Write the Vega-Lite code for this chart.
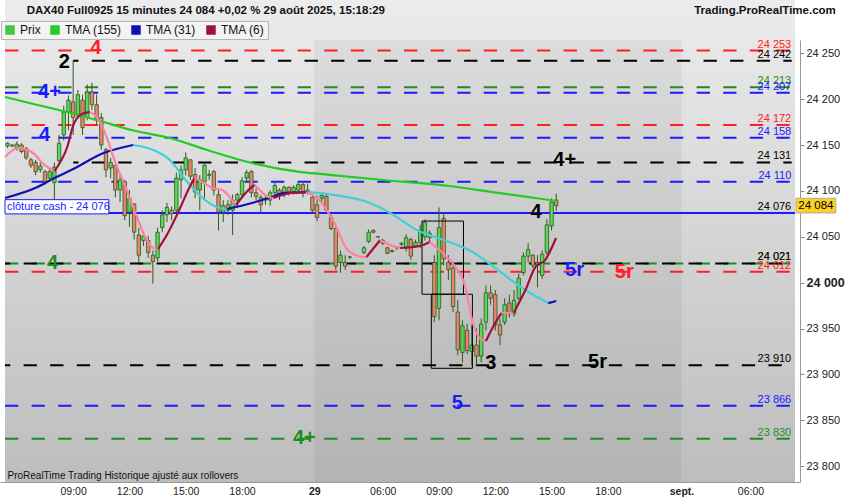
{
  "$schema": "https://vega.github.io/schema/vega-lite/v6.json",
  "width": 800,
  "height": 442,
  "autosize": {"type": "none"},
  "padding": {"top": 40, "left": 0, "right": 50, "bottom": 18},
  "background": "#ffffff",
  "config": {"view": {"stroke": null}, "font": "Liberation Sans", "axis": {"title": null, "grid": false}},
  "datasets": {
    "candles": [
      {"i":-14,"o":24149,"h":24153,"l":24147,"c":24152},
      {"i":-13,"o":24150,"h":24151,"l":24148,"c":24149},
      {"i":-12,"o":24147,"h":24154,"l":24144,"c":24151},
      {"i":-11,"o":24150,"h":24152,"l":24141,"c":24143},
      {"i":-10,"o":24146,"h":24148,"l":24134,"c":24136},
      {"i":-9,"o":24134,"h":24136,"l":24125,"c":24128},
      {"i":-8,"o":24131,"h":24134,"l":24117,"c":24121},
      {"i":-7,"o":24123,"h":24131,"l":24120,"c":24127},
      {"i":-6,"o":24121,"h":24123,"l":24107,"c":24110},
      {"i":-5,"o":24114,"h":24125,"l":24110,"c":24121},
      {"i":-4,"o":24109,"h":24131,"l":24090,"c":24126},
      {"i":-3,"o":24133,"h":24161,"l":24128,"c":24152},
      {"i":-2,"o":24161,"h":24193,"l":24155,"c":24186},
      {"i":-1,"o":24186,"h":24204,"l":24166,"c":24199},
      {"i":0,"o":24197,"h":24242,"l":24161,"c":24180},
      {"i":1,"o":24182,"h":24210,"l":24180,"c":24205},
      {"i":2,"o":24199,"h":24205,"l":24161,"c":24169},
      {"i":3,"o":24180,"h":24216,"l":24177,"c":24208},
      {"i":4,"o":24208,"h":24218,"l":24188,"c":24194},
      {"i":5,"o":24194,"h":24205,"l":24172,"c":24177},
      {"i":6,"o":24180,"h":24185,"l":24145,"c":24150},
      {"i":7,"o":24145,"h":24147,"l":24115,"c":24123},
      {"i":8,"o":24125,"h":24136,"l":24114,"c":24131},
      {"i":9,"o":24128,"h":24128,"l":24093,"c":24101},
      {"i":10,"o":24101,"h":24117,"l":24088,"c":24112},
      {"i":11,"o":24110,"h":24112,"l":24068,"c":24073},
      {"i":12,"o":24077,"h":24101,"l":24061,"c":24092},
      {"i":13,"o":24086,"h":24086,"l":24047,"c":24055},
      {"i":14,"o":24052,"h":24060,"l":24022,"c":24030},
      {"i":15,"o":24046,"h":24054,"l":24040,"c":24051},
      {"i":16,"o":24046,"h":24051,"l":24027,"c":24033},
      {"i":17,"o":24030,"h":24035,"l":23999,"c":24023},
      {"i":18,"o":24027,"h":24060,"l":24023,"c":24055},
      {"i":19,"o":24060,"h":24079,"l":24055,"c":24074},
      {"i":20,"o":24074,"h":24087,"l":24066,"c":24082},
      {"i":21,"o":24079,"h":24083,"l":24068,"c":24075},
      {"i":22,"o":24079,"h":24120,"l":24077,"c":24114},
      {"i":23,"o":24112,"h":24128,"l":24092,"c":24123},
      {"i":24,"o":24123,"h":24142,"l":24117,"c":24136},
      {"i":25,"o":24134,"h":24134,"l":24112,"c":24116},
      {"i":26,"o":24118,"h":24125,"l":24092,"c":24099},
      {"i":27,"o":24101,"h":24117,"l":24079,"c":24112},
      {"i":28,"o":24110,"h":24131,"l":24092,"c":24128},
      {"i":29,"o":24117,"h":24123,"l":24112,"c":24118},
      {"i":30,"o":24121,"h":24123,"l":24095,"c":24101},
      {"i":31,"o":24096,"h":24101,"l":24057,"c":24077},
      {"i":32,"o":24077,"h":24090,"l":24066,"c":24084},
      {"i":33,"o":24085,"h":24090,"l":24074,"c":24079},
      {"i":34,"o":24079,"h":24096,"l":24052,"c":24090},
      {"i":35,"o":24090,"h":24098,"l":24082,"c":24096},
      {"i":36,"o":24096,"h":24115,"l":24093,"c":24111},
      {"i":37,"o":24114,"h":24123,"l":24110,"c":24120},
      {"i":38,"o":24121,"h":24123,"l":24093,"c":24098},
      {"i":39,"o":24098,"h":24103,"l":24090,"c":24094},
      {"i":40,"o":24093,"h":24096,"l":24076,"c":24085},
      {"i":41,"o":24090,"h":24096,"l":24085,"c":24092},
      {"i":42,"o":24090,"h":24101,"l":24084,"c":24098},
      {"i":43,"o":24098,"h":24110,"l":24094,"c":24106},
      {"i":44,"o":24101,"h":24103,"l":24090,"c":24095},
      {"i":45,"o":24096,"h":24106,"l":24093,"c":24104},
      {"i":46,"o":24104,"h":24105,"l":24095,"c":24099},
      {"i":47,"o":24099,"h":24106,"l":24096,"c":24104},
      {"i":48,"o":24101,"h":24110,"l":24097,"c":24107},
      {"i":49,"o":24107,"h":24109,"l":24093,"c":24099},
      {"i":50,"o":24099,"h":24108,"l":24096,"c":24101},
      {"i":51,"o":24093,"h":24096,"l":24076,"c":24079},
      {"i":52,"o":24085,"h":24095,"l":24067,"c":24071},
      {"i":53,"o":24092,"h":24098,"l":24087,"c":24095},
      {"i":54,"o":24094,"h":24097,"l":24077,"c":24079},
      {"i":55,"o":24071,"h":24074,"l":24057,"c":24059},
      {"i":56,"o":24059,"h":24061,"l":24014,"c":24018},
      {"i":57,"o":24022,"h":24035,"l":24011,"c":24030},
      {"i":58,"o":24022,"h":24030,"l":24014,"c":24018},
      {"i":59,"o":24028,"h":24029,"l":24026,"c":24028},
      {"i":62,"o":24033,"h":24040,"l":24031,"c":24038},
      {"i":63,"o":24045,"h":24058,"l":24043,"c":24055},
      {"i":64,"o":24057,"h":24058,"l":24054,"c":24055},
      {"i":65,"o":24050,"h":24051,"l":24049,"c":24050},
      {"i":66,"o":24043,"h":24048,"l":24041,"c":24046},
      {"i":67,"o":24038,"h":24039,"l":24031,"c":24032},
      {"i":68,"o":24035,"h":24036,"l":24033,"c":24034},
      {"i":69,"o":24038,"h":24040,"l":24036,"c":24039},
      {"i":70,"o":24042,"h":24044,"l":24040,"c":24043},
      {"i":71,"o":24038,"h":24053,"l":24034,"c":24049},
      {"i":72,"o":24047,"h":24049,"l":24025,"c":24029},
      {"i":73,"o":24040,"h":24047,"l":24038,"c":24044},
      {"i":74,"o":24044,"h":24063,"l":24038,"c":24057},
      {"i":75,"o":24050,"h":24069,"l":24046,"c":24066},
      {"i":76,"o":24054,"h":24057,"l":24044,"c":24049},
      {"i":77,"o":24022,"h":24030,"l":23957,"c":23963},
      {"i":78,"o":23972,"h":24082,"l":23959,"c":24060},
      {"i":79,"o":24070,"h":24076,"l":24019,"c":24026},
      {"i":80,"o":24022,"h":24030,"l":24003,"c":24014},
      {"i":81,"o":24016,"h":24022,"l":23968,"c":23974},
      {"i":82,"o":23968,"h":23981,"l":23921,"c":23927},
      {"i":83,"o":23924,"h":23959,"l":23913,"c":23953},
      {"i":84,"o":23948,"h":23955,"l":23922,"c":23926},
      {"i":85,"o":23925,"h":23954,"l":23910,"c":23932},
      {"i":86,"o":23932,"h":23950,"l":23910,"c":23920},
      {"i":87,"o":23920,"h":23961,"l":23913,"c":23955},
      {"i":88,"o":23957,"h":23997,"l":23948,"c":23989},
      {"i":89,"o":23989,"h":23997,"l":23976,"c":23983},
      {"i":90,"o":23987,"h":23992,"l":23948,"c":23954},
      {"i":91,"o":23954,"h":23961,"l":23932,"c":23943},
      {"i":92,"o":23957,"h":23983,"l":23954,"c":23976},
      {"i":93,"o":23978,"h":23987,"l":23962,"c":23966},
      {"i":94,"o":23966,"h":23992,"l":23963,"c":23981},
      {"i":95,"o":23983,"h":24010,"l":23981,"c":24005},
      {"i":96,"o":24011,"h":24033,"l":24008,"c":24029},
      {"i":97,"o":24029,"h":24043,"l":24022,"c":24036},
      {"i":98,"o":24030,"h":24031,"l":24016,"c":24019},
      {"i":99,"o":24019,"h":24030,"l":23995,"c":24022},
      {"i":100,"o":24008,"h":24035,"l":24004,"c":24031},
      {"i":101,"o":24033,"h":24069,"l":24030,"c":24063},
      {"i":102,"o":24062,"h":24092,"l":24057,"c":24088},
      {"i":103,"o":24090,"h":24097,"l":24078,"c":24084}
    ],
    "levels": [
      {"p":24253,"grp":"R","i0":-14.53},
      {"p":24242,"grp":"K","i0":0},
      {"p":24213,"grp":"G","i0":-14.53},
      {"p":24207,"grp":"B","i0":-14.53},
      {"p":24172,"grp":"R","i0":-14.53},
      {"p":24158,"grp":"B","i0":-14.53},
      {"p":24131,"grp":"K","i0":0},
      {"p":24110,"grp":"B","i0":-14.53},
      {"p":24021,"grp":"G","i0":-14.53},
      {"p":24021,"grp":"K","i0":-14.53},
      {"p":24012,"grp":"R","i0":-14.53},
      {"p":23910,"grp":"K","i0":-14.53},
      {"p":23866,"grp":"B","i0":-14.53},
      {"p":23830,"grp":"G","i0":-14.53}
    ],
    "ma": [
      {"k":"TMA (155)","seg":0,"i":-14.53,"p":24202.4},
      {"k":"TMA (155)","seg":0,"i":-7.6,"p":24193.7},
      {"k":"TMA (155)","seg":0,"i":-0.4,"p":24184.9},
      {"k":"TMA (155)","seg":0,"i":6.5,"p":24175.1},
      {"k":"TMA (155)","seg":0,"i":12.4,"p":24166.4},
      {"k":"TMA (155)","seg":0,"i":20.6,"p":24157.7},
      {"k":"TMA (155)","seg":0,"i":28.6,"p":24144.6},
      {"k":"TMA (155)","seg":0,"i":38.1,"p":24130.4},
      {"k":"TMA (155)","seg":0,"i":48.6,"p":24120.6},
      {"k":"TMA (155)","seg":0,"i":52.8,"p":24118.5},
      {"k":"TMA (155)","seg":0,"i":66.1,"p":24111.9},
      {"k":"TMA (155)","seg":0,"i":80.2,"p":24105.4},
      {"k":"TMA (155)","seg":0,"i":90.7,"p":24097.8},
      {"k":"TMA (155)","seg":0,"i":98.5,"p":24092.3},
      {"k":"TMA (155)","seg":0,"i":103,"p":24089},
      {"k":"TMA (31)","seg":1,"i":-14.53,"p":24092.3},
      {"k":"TMA (31)","seg":1,"i":-7.6,"p":24104.3},
      {"k":"TMA (31)","seg":1,"i":-4,"p":24114.1},
      {"k":"TMA (31)","seg":1,"i":-0.4,"p":24122.8},
      {"k":"TMA (31)","seg":1,"i":6.5,"p":24141.3},
      {"k":"TMA (31)","seg":1,"i":12.8,"p":24150.1},
      {"k":"TMA (31) ↓","seg":2,"i":12.8,"p":24150.1},
      {"k":"TMA (31) ↓","seg":2,"i":17.1,"p":24144.6},
      {"k":"TMA (31) ↓","seg":2,"i":20.6,"p":24133.7},
      {"k":"TMA (31) ↓","seg":2,"i":24,"p":24111.9},
      {"k":"TMA (31) ↓","seg":2,"i":27.6,"p":24092.3},
      {"k":"TMA (31) ↓","seg":2,"i":31.2,"p":24081.4},
      {"k":"TMA (31) ↓","seg":2,"i":32.8,"p":24080.3},
      {"k":"TMA (31)","seg":3,"i":32.8,"p":24080.3},
      {"k":"TMA (31)","seg":3,"i":38.1,"p":24086.9},
      {"k":"TMA (31)","seg":3,"i":41.7,"p":24092.3},
      {"k":"TMA (31)","seg":3,"i":45.1,"p":24097.8},
      {"k":"TMA (31)","seg":3,"i":50.1,"p":24098.8},
      {"k":"TMA (31) ↓","seg":4,"i":50.1,"p":24098.8},
      {"k":"TMA (31) ↓","seg":4,"i":52.2,"p":24097.8},
      {"k":"TMA (31) ↓","seg":4,"i":55.6,"p":24095.6},
      {"k":"TMA (31) ↓","seg":4,"i":62.7,"p":24087.9},
      {"k":"TMA (31) ↓","seg":4,"i":67.6,"p":24076},
      {"k":"TMA (31) ↓","seg":4,"i":73.3,"p":24057.4},
      {"k":"TMA (31) ↓","seg":4,"i":80.2,"p":24044.4},
      {"k":"TMA (31) ↓","seg":4,"i":84.4,"p":24035.6},
      {"k":"TMA (31) ↓","seg":4,"i":91.4,"p":24010.6},
      {"k":"TMA (31) ↓","seg":4,"i":96.4,"p":23992},
      {"k":"TMA (31) ↓","seg":4,"i":101.3,"p":23977.8},
      {"k":"TMA (31)","seg":5,"i":101.3,"p":23977.8},
      {"k":"TMA (31)","seg":5,"i":103,"p":23980},
      {"k":"TMA (6) ↓","seg":6,"i":-14.53,"p":24137},
      {"k":"TMA (6) ↓","seg":6,"i":-11.79,"p":24146.8},
      {"k":"TMA (6) ↓","seg":6,"i":-8.84,"p":24142.4},
      {"k":"TMA (6) ↓","seg":6,"i":-6.11,"p":24128.3},
      {"k":"TMA (6) ↓","seg":6,"i":-4,"p":24121.7},
      {"k":"TMA (6)","seg":7,"i":-4,"p":24121.7},
      {"k":"TMA (6)","seg":7,"i":-1.26,"p":24147.9},
      {"k":"TMA (6)","seg":7,"i":0.21,"p":24174},
      {"k":"TMA (6)","seg":7,"i":2.32,"p":24184.9},
      {"k":"TMA (6)","seg":7,"i":3.58,"p":24186},
      {"k":"TMA (6) ↓","seg":8,"i":3.58,"p":24186},
      {"k":"TMA (6) ↓","seg":8,"i":5.05,"p":24180.5},
      {"k":"TMA (6) ↓","seg":8,"i":6.53,"p":24166.4},
      {"k":"TMA (6) ↓","seg":8,"i":9.05,"p":24130.4},
      {"k":"TMA (6) ↓","seg":8,"i":11.16,"p":24104.3},
      {"k":"TMA (6) ↓","seg":8,"i":13.26,"p":24076},
      {"k":"TMA (6) ↓","seg":8,"i":15.37,"p":24049.8},
      {"k":"TMA (6) ↓","seg":8,"i":17.05,"p":24037.8},
      {"k":"TMA (6) ↓","seg":8,"i":18.11,"p":24036.7},
      {"k":"TMA (6)","seg":9,"i":18.11,"p":24036.7},
      {"k":"TMA (6)","seg":9,"i":20.21,"p":24054.2},
      {"k":"TMA (6)","seg":9,"i":22.32,"p":24076},
      {"k":"TMA (6)","seg":9,"i":24.84,"p":24104.3},
      {"k":"TMA (6)","seg":9,"i":25.89,"p":24114.1},
      {"k":"TMA (6) ↓","seg":10,"i":25.89,"p":24114.1},
      {"k":"TMA (6) ↓","seg":10,"i":27.58,"p":24109.7},
      {"k":"TMA (6) ↓","seg":10,"i":29.68,"p":24103.2},
      {"k":"TMA (6) ↓","seg":10,"i":31.79,"p":24101},
      {"k":"TMA (6) ↓","seg":10,"i":33.89,"p":24090.1},
      {"k":"TMA (6) ↓","seg":10,"i":34.74,"p":24084.7},
      {"k":"TMA (6)","seg":11,"i":34.74,"p":24084.7},
      {"k":"TMA (6)","seg":11,"i":38.11,"p":24104.3},
      {"k":"TMA (6)","seg":11,"i":38.74,"p":24106.5},
      {"k":"TMA (6) ↓","seg":12,"i":38.74,"p":24106.5},
      {"k":"TMA (6) ↓","seg":12,"i":41.68,"p":24093.4},
      {"k":"TMA (6) ↓","seg":12,"i":42.74,"p":24092.3},
      {"k":"TMA (6)","seg":13,"i":42.74,"p":24092.3},
      {"k":"TMA (6)","seg":13,"i":46.53,"p":24097.8},
      {"k":"TMA (6)","seg":13,"i":49.68,"p":24098.8},
      {"k":"TMA (6) ↓","seg":14,"i":49.68,"p":24098.8},
      {"k":"TMA (6) ↓","seg":14,"i":52.42,"p":24090.1},
      {"k":"TMA (6) ↓","seg":14,"i":55.58,"p":24066.1},
      {"k":"TMA (6) ↓","seg":14,"i":58.53,"p":24035.6},
      {"k":"TMA (6) ↓","seg":14,"i":61.89,"p":24028},
      {"k":"TMA (6) ↓","seg":14,"i":62.53,"p":24028},
      {"k":"TMA (6)","seg":15,"i":62.53,"p":24028},
      {"k":"TMA (6)","seg":15,"i":65.47,"p":24046.5},
      {"k":"TMA (6) ↓","seg":16,"i":65.47,"p":24046.5},
      {"k":"TMA (6) ↓","seg":16,"i":67.58,"p":24041.1},
      {"k":"TMA (6) ↓","seg":16,"i":69.68,"p":24037.8},
      {"k":"TMA (6)","seg":17,"i":69.68,"p":24037.8},
      {"k":"TMA (6)","seg":17,"i":73.89,"p":24040},
      {"k":"TMA (6)","seg":17,"i":76,"p":24044.4},
      {"k":"TMA (6) ↓","seg":18,"i":76,"p":24044.4},
      {"k":"TMA (6) ↓","seg":18,"i":78.74,"p":24032.4},
      {"k":"TMA (6) ↓","seg":18,"i":80.84,"p":24021.5},
      {"k":"TMA (6) ↓","seg":18,"i":83.79,"p":23992},
      {"k":"TMA (6) ↓","seg":18,"i":85.05,"p":23959.3},
      {"k":"TMA (6) ↓","seg":18,"i":87.16,"p":23937.6},
      {"k":"TMA (6) ↓","seg":18,"i":88,"p":23936.5},
      {"k":"TMA (6)","seg":19,"i":88,"p":23936.5},
      {"k":"TMA (6)","seg":19,"i":90.74,"p":23962.6},
      {"k":"TMA (6)","seg":19,"i":91.37,"p":23967},
      {"k":"TMA (6) ↓","seg":20,"i":91.37,"p":23967},
      {"k":"TMA (6) ↓","seg":20,"i":93.89,"p":23967},
      {"k":"TMA (6)","seg":21,"i":93.89,"p":23967},
      {"k":"TMA (6)","seg":21,"i":96.42,"p":23992},
      {"k":"TMA (6)","seg":21,"i":98.53,"p":24017.1},
      {"k":"TMA (6)","seg":21,"i":100.63,"p":24024.7},
      {"k":"TMA (6)","seg":21,"i":102.95,"p":24048.7}
    ],
    "notes": [
      {"t":"4","grp":"R","i":4.84,"p":24255.8},
      {"t":"2","grp":"K","i":-1.9,"p":24240.5},
      {"t":"4+","grp":"B","i":-5.05,"p":24207.8},
      {"t":"4","grp":"B","i":-6.1,"p":24160.9},
      {"t":"4","grp":"G","i":-4.4,"p":24021.5},
      {"t":"4+","grp":"K","i":104.8,"p":24133.7},
      {"t":"4","grp":"K","i":98.7,"p":24077},
      {"t":"5r","grp":"B","i":106.9,"p":24013.8},
      {"t":"5r","grp":"R","i":117.5,"p":24011.7},
      {"t":"3","grp":"K","i":89.05,"p":23912.5},
      {"t":"5r","grp":"K","i":111.8,"p":23913.6},
      {"t":"5","grp":"B","i":81.9,"p":23868.9},
      {"t":"4+","grp":"G","i":49.3,"p":23830.7}
    ],
    "boxes": [
      {"x1":74.38,"x2":83.22,"p1":24067.2,"p2":23987.4},
      {"x1":76.36,"x2":85.12,"p1":23987.4,"p2":23906.7}
    ],
    "cash": [{"p":24076,"t":"clôture cash -  24 076"}],
    "last": [{"p":24084}]
  },
  "layer": [
    {
      "data": {"values": [{}]},
      "mark": {"type": "rect", "fill": {"gradient": "linear", "x1": 0, "y1": 0, "x2": 0, "y2": 1, "stops": [{"offset": 0, "color": "#ececec"}, {"offset": 1, "color": "#bdbdbd"}]}},
      "encoding": {
        "x": {"datum": -14.53, "type": "quantitative", "scale": {"domain": [-14.53, 153.9], "nice": false, "zero": false}, "axis": {
          "values": [0, 12, 24, 36, 51.4, 66, 78, 90, 102, 114, 129.7, 144.4],
          "labelExpr": "['09:00','12:00','15:00','18:00','29','06:00','09:00','12:00','15:00','18:00','sept.','06:00'][indexof([0,12,24,36,51.4,66,78,90,102,114,129.7,144.4], datum.value)]",
          "labelFontWeight": {"condition": {"test": "datum.value == 51.4 || datum.value == 129.7", "value": "bold"}, "value": "normal"},
          "ticks": false, "grid": false, "domainColor": "#999999", "labelFont": "Liberation Sans", "labelFontSize": 10.5, "labelColor": "#222222", "labelPadding": 4, "labelFlush": false, "labelOverlap": false, "title": null}},
        "x2": {"datum": 153.9},
        "y": {"datum": 24308, "type": "quantitative", "scale": {"domain": [23782.8, 24264.5], "nice": false, "zero": false}, "axis": {
          "orient": "right",
          "values": [23800, 23850, 23900, 23950, 24000, 24050, 24100, 24150, 24200, 24250],
          "labelExpr": "replace(format(datum.value, ','), ',', ' ')",
          "labelFontWeight": {"condition": {"test": "datum.value == 24000", "value": "bold"}, "value": "normal"},
          "labelFontSize": {"condition": {"test": "datum.value == 24000", "value": 12.5}, "value": 11},
          "tickSize": 4, "tickColor": "#888888", "domainColor": "#999999", "grid": false, "labelColor": "#222222", "labelPadding": 2, "title": null}},
        "y2": {"datum": 23782.8}
      }
    },
    {
      "data": {"values": [{}]},
      "mark": {"type": "rect", "fill": "#000000", "fillOpacity": 0.05},
      "encoding": {
        "x": {"datum": 51.4, "type": "quantitative"},
        "x2": {"datum": 129.7},
        "y": {"datum": 24264.5, "type": "quantitative"},
        "y2": {"datum": 23782.8}
      }
    },
    {
      "data": {"name": "levels"},
      "transform": [{"filter": "datum.grp != 'K'"}],
      "mark": {"type": "rule", "strokeDash": [13.3, 13.3], "strokeWidth": 2},
      "encoding": {
        "x": {"field": "i0", "type": "quantitative"},
        "x2": {"datum": 153.2},
        "y": {"field": "p", "type": "quantitative"},
        "color": {"field": "grp", "type": "nominal"}
      }
    },
    {
      "data": {"name": "levels"},
      "transform": [{"filter": "datum.grp == 'K'"}],
      "mark": {"type": "rule", "strokeDash": [13.3, 13.3], "strokeDashOffset": 8, "strokeWidth": 2},
      "encoding": {
        "x": {"field": "i0", "type": "quantitative"},
        "x2": {"datum": 153.2},
        "y": {"field": "p", "type": "quantitative"},
        "color": {"field": "grp", "type": "nominal"}
      }
    },
    {
      "data": {"name": "cash"},
      "mark": {"type": "rule", "color": "#1a1aff", "strokeWidth": 2},
      "encoding": {
        "x": {"datum": -14.53, "type": "quantitative"},
        "x2": {"datum": 153.9},
        "y": {"field": "p", "type": "quantitative"}
      }
    },
    {
      "data": {"name": "candles"},
      "mark": {"type": "rule", "color": "#2b5a1b", "strokeWidth": 1},
      "encoding": {
        "x": {"field": "i", "type": "quantitative"},
        "y": {"field": "l", "type": "quantitative"},
        "y2": {"field": "h"}
      }
    },
    {
      "data": {"name": "candles"},
      "transform": [{"calculate": "datum.c >= datum.o ? 'hausse' : 'baisse'", "as": "dir"}],
      "mark": {"type": "bar", "width": 3.4, "stroke": "#2b5a1b", "strokeWidth": 0.8},
      "encoding": {
        "x": {"field": "i", "type": "quantitative"},
        "y": {"field": "o", "type": "quantitative"},
        "y2": {"field": "c"},
        "color": {"field": "dir", "type": "nominal",
          "scale": {"domain": ["Prix", "TMA (155)", "TMA (31)", "TMA (6)", "TMA (31) ↓", "TMA (6) ↓", "hausse", "baisse", "K", "R", "B", "G"],
                    "range": ["#45c445", "#22cc22", "#1010b0", "#a0103c", "#3fd0d8", "#ff7fa0", "#5cd65c", "#ee8270", "#000000", "#ff2020", "#1a1aff", "#1e8c1e"]},
          "legend": {"values": ["Prix", "TMA (155)", "TMA (31)", "TMA (6)"], "orient": "none", "legendX": 1, "legendY": -19, "direction": "horizontal", "title": null, "symbolType": "square", "symbolSize": 90, "symbolStrokeWidth": 0, "symbolOpacity": 1, "labelFontSize": 12, "labelColor": "#111111", "labelFont": "Liberation Sans", "columnPadding": 8, "labelOffset": 4, "padding": 3, "fillColor": "#f3f3f3", "strokeColor": "#b5b5b5",
            "encode": {"symbols": {"update": {"fill": {"scale": "color", "field": "value"}, "fillOpacity": {"value": 1}, "strokeWidth": {"value": 0}}}}}}
      }
    },
    {
      "data": {"name": "boxes"},
      "mark": {"type": "rect", "fillOpacity": 0, "stroke": "#000000", "strokeWidth": 1},
      "encoding": {
        "x": {"field": "x1", "type": "quantitative"},
        "x2": {"field": "x2"},
        "y": {"field": "p1", "type": "quantitative"},
        "y2": {"field": "p2"}
      }
    },
    {
      "data": {"name": "ma"},
      "mark": {"type": "line", "strokeWidth": 2.2, "interpolate": "monotone"},
      "encoding": {
        "x": {"field": "i", "type": "quantitative"},
        "y": {"field": "p", "type": "quantitative"},
        "color": {"field": "k", "type": "nominal"},
        "detail": {"field": "seg", "type": "nominal"}
      }
    },
    {
      "data": {"name": "levels"},
      "transform": [{"calculate": "replace(format(datum.p, ','), ',', ' ')", "as": "lab"}],
      "mark": {"type": "text", "align": "right", "baseline": "bottom", "dy": -1, "fontSize": 11},
      "encoding": {
        "x": {"datum": 153.1, "type": "quantitative"},
        "y": {"field": "p", "type": "quantitative"},
        "text": {"field": "lab"},
        "color": {"field": "grp", "type": "nominal"}
      }
    },
    {
      "data": {"name": "cash"},
      "transform": [{"calculate": "replace(format(datum.p, ','), ',', ' ')", "as": "lab"}],
      "mark": {"type": "text", "align": "right", "baseline": "bottom", "dy": -1, "fontSize": 11, "color": "#000000"},
      "encoding": {
        "x": {"datum": 153.1, "type": "quantitative"},
        "y": {"field": "p", "type": "quantitative"},
        "text": {"field": "lab"}
      }
    },
    {
      "data": {"name": "cash"},
      "transform": [{"calculate": "datum.p + 14.5", "as": "top"}, {"calculate": "datum.p - 1", "as": "bot"}],
      "mark": {"type": "rect", "fill": "#ffffff", "stroke": "#1a1aff", "strokeWidth": 1},
      "encoding": {
        "x": {"datum": -14.53, "type": "quantitative"},
        "x2": {"datum": 7.6},
        "y": {"field": "top", "type": "quantitative"},
        "y2": {"field": "bot"}
      }
    },
    {
      "data": {"name": "cash"},
      "transform": [{"calculate": "datum.p + 6.8", "as": "mid"}],
      "mark": {"type": "text", "align": "left", "baseline": "middle", "fontSize": 11, "color": "#1a1aff"},
      "encoding": {
        "x": {"datum": -14.1, "type": "quantitative"},
        "y": {"field": "mid", "type": "quantitative"},
        "text": {"field": "t"}
      }
    },
    {
      "data": {"name": "notes"},
      "mark": {"type": "text", "fontSize": 20, "fontWeight": "bold", "align": "center", "baseline": "middle"},
      "encoding": {
        "x": {"field": "i", "type": "quantitative"},
        "y": {"field": "p", "type": "quantitative"},
        "text": {"field": "t"},
        "color": {"field": "grp", "type": "nominal"}
      }
    },
    {
      "data": {"name": "last"},
      "transform": [{"calculate": "datum.p + 8", "as": "top"}, {"calculate": "datum.p - 8", "as": "bot"}],
      "mark": {"type": "rect", "fill": "#ffd21f", "stroke": "#aaaaaa", "strokeWidth": 1},
      "encoding": {
        "x": {"datum": 154.1, "type": "quantitative"},
        "x2": {"datum": 162.6},
        "y": {"field": "top", "type": "quantitative"},
        "y2": {"field": "bot"}
      }
    },
    {
      "data": {"name": "last"},
      "transform": [{"calculate": "replace(format(datum.p, ','), ',', ' ')", "as": "lab"}],
      "mark": {"type": "text", "align": "center", "baseline": "middle", "fontSize": 11.5, "color": "#000000"},
      "encoding": {
        "x": {"datum": 158.35, "type": "quantitative"},
        "y": {"field": "p", "type": "quantitative"},
        "text": {"field": "lab"}
      }
    },
    {
      "data": {"values": [{}]},
      "mark": {"type": "text", "text": "ProRealTime Trading  Historique ajusté aux rollovers", "align": "left", "baseline": "middle", "fontSize": 10, "color": "#111111"},
      "encoding": {
        "x": {"datum": -14.0, "type": "quantitative"},
        "y": {"datum": 23789.5, "type": "quantitative"}
      }
    },
    {
      "data": {"values": [{}]},
      "mark": {"type": "text", "text": "DAX40 Full0925 15 minutes 24 084 +0,02 % 29 août 2025, 15:18:29", "align": "left", "baseline": "middle", "fontSize": 11.5, "fontWeight": "bold", "color": "#111111"},
      "encoding": {
        "x": {"datum": -9.9, "type": "quantitative"},
        "y": {"datum": 24296, "type": "quantitative"}
      }
    },
    {
      "data": {"values": [{}]},
      "mark": {"type": "text", "text": "Trading.ProRealTime.com", "align": "right", "baseline": "middle", "fontSize": 11.5, "fontWeight": "bold", "color": "#111111"},
      "encoding": {
        "x": {"datum": 162.6, "type": "quantitative"},
        "y": {"datum": 24296, "type": "quantitative"}
      }
    }
  ]
}
